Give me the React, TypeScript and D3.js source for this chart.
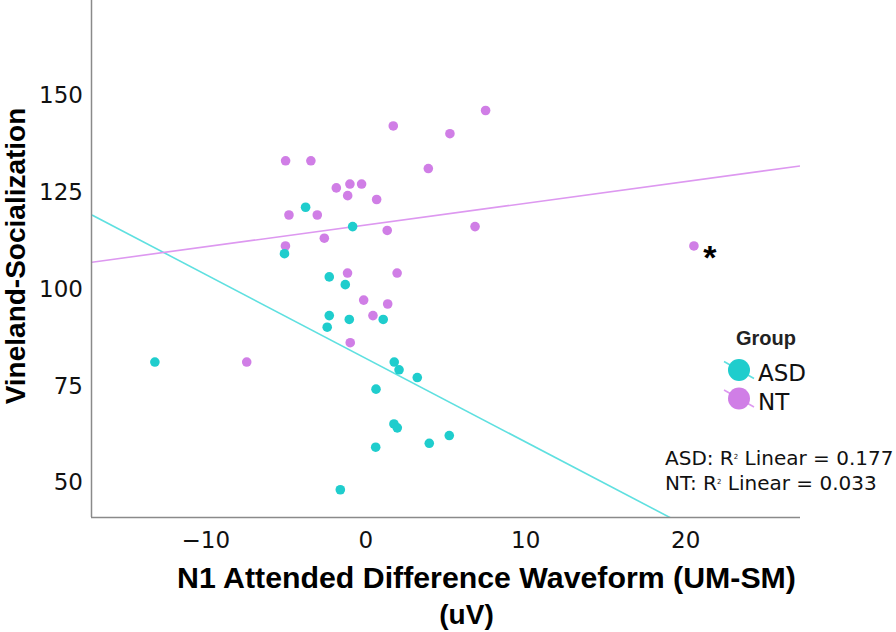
import React from "react";
import * as d3 from "d3";

const asdX = [-13.18, -3.76, -0.82, -5.08, -2.28, -1.28, 1.09, -2.28, -1.03, -2.41, 1.78, 2.08, 3.22, 0.64, 1.76, 1.97, 5.22, 3.97, 0.62, -1.59];
const asdY = [81, 121, 116, 109, 103, 101, 92, 93, 92, 90, 81, 79, 77, 74, 65, 64, 62, 60, 59, 48];

const ntX = [-7.44, 1.72, 5.26, 7.49, -5.01, -3.43, -1.84, -0.99, -0.26, -1.13, 0.68, -4.8, -3.03, 1.34, 3.91, 6.83, -2.59, -5.02, -1.14, 1.96, -0.13, 1.37, 0.45, -0.97, 20.51];
const ntY = [81, 142, 140, 146, 133, 133, 126, 127, 127, 124, 123, 119, 119, 115, 131, 116, 113, 111, 104, 104, 97, 96, 93, 86, 111];

// linear fits: [intercept, slope]
const asdFit = [81.97, -2.164];
const ntFit = [116.41, 0.5616];

const xTicks = [-10, 0, 10, 20];
const yTicks = [50, 75, 100, 125, 150];
const xDomain = [-17.11, 27.14];
const yDomain = [40.96, 174.55];

const groups = ["ASD", "NT"];
const r2Labels = ["ASD: R", "NT: R"];
const r2Values = ["0.177", "0.033"];

const outlierMark = "*";

const COL = { ASD: "#1fcdcd", NT: "#d07ee6" };
const LINECOL = { ASD: "#5fe0e0", NT: "#dd98f0" };

export default function App() {
  const left = 92, right = 800, top = 0, bottom = 517;
  const x = d3.scaleLinear().domain(xDomain).range([left, right]);
  const y = d3.scaleLinear().domain(yDomain).range([bottom, top]);

  const fitPath = (fit: number[]) =>
    d3.line<number>().x((d) => x(d)).y((d) => y(fit[0] + fit[1] * d))(xDomain as number[]) || "";

  const tickFont = "DejaVu Sans, Verdana, sans-serif";
  const boldFont = "Liberation Sans, Arial, sans-serif";

  return (
    <svg width={896} height={632} style={{ position: "absolute", left: 0, top: 0, background: "#fff" }}>
      <defs>
        <clipPath id="plot">
          <rect x={left} y={top} width={right - left} height={bottom - top} />
        </clipPath>
      </defs>
      {/* regression lines */}
      <g clipPath="url(#plot)">
        <path d={fitPath(asdFit)} stroke={LINECOL.ASD} strokeWidth={1.6} fill="none" />
        <path d={fitPath(ntFit)} stroke={LINECOL.NT} strokeWidth={1.6} fill="none" />
      </g>
      {/* points */}
      <g>
        {ntX.map((v, i) => (
          <circle key={"n" + i} cx={x(v)} cy={y(ntY[i])} r={4.8} fill={COL.NT} />
        ))}
        {asdX.map((v, i) => (
          <circle key={"a" + i} cx={x(v)} cy={y(asdY[i])} r={4.8} fill={COL.ASD} />
        ))}
      </g>
      {/* outlier asterisk */}
      <text x={x(ntX[24]) + 16} y={y(ntY[24]) + 23} fontFamily={boldFont} fontWeight="bold" fontSize={34} textAnchor="middle" fill="#000">
        {outlierMark}
      </text>
      {/* axes */}
      <line x1={left - 0.5} x2={left - 0.5} y1={top} y2={bottom} stroke="#8a8a8a" strokeWidth={1.5} />
      <line x1={left - 1} x2={right} y1={bottom + 0.5} y2={bottom + 0.5} stroke="#8a8a8a" strokeWidth={1.5} />
      {yTicks.map((t) => (
        <text key={"y" + t} x={83} y={y(t)} dy="0.36em" textAnchor="end" fontFamily={tickFont} fontSize={23} fill="#111">
          {t}
        </text>
      ))}
      {xTicks.map((t) => (
        <text key={"x" + t} x={x(t)} y={548} textAnchor="middle" fontFamily={tickFont} fontSize={23} fill="#111">
          {t < 0 ? "\u2212" + Math.abs(t) : t}
        </text>
      ))}
      {/* axis titles */}
      <text transform={`translate(25,256) rotate(-90)`} textAnchor="middle" fontFamily={boldFont} fontWeight="bold" fontSize={28} fill="#000">
        Vineland-Socialization
      </text>
      <text x={486.5} y={588} textAnchor="middle" fontFamily={boldFont} fontWeight="bold" fontSize={30.3} fill="#000">
        N1 Attended Difference Waveform (UM-SM)
      </text>
      <text x={466.5} y={624} textAnchor="middle" fontFamily={boldFont} fontWeight="bold" fontSize={28} fill="#000">
        (uV)
      </text>
      {/* legend */}
      <text x={766} y={345} textAnchor="middle" fontFamily={boldFont} fontWeight="bold" fontSize={20} fill="#222">
        Group
      </text>
      {groups.map((g, i) => {
        const cy = 370 + i * 28.5;
        const c = g === "ASD" ? COL.ASD : COL.NT;
        const lc = g === "ASD" ? LINECOL.ASD : LINECOL.NT;
        return (
          <g key={g}>
            <line x1={724} y1={cy - 8.5} x2={754} y2={cy + 8.5} stroke={lc} strokeWidth={1.6} />
            <circle cx={739} cy={cy} r={11} fill={c} />
            <text x={758} y={cy + 11} fontFamily={tickFont} fontSize={23} fill="#111">
              {g}
            </text>
          </g>
        );
      })}
      {/* R² annotations */}
      {r2Labels.map((l, i) => (
        <text key={l} x={665} y={465 + i * 25} fontFamily={tickFont} fontSize={20} fill="#111">
          {l}
          <tspan fontSize={7} dy={-6}>2</tspan>
          <tspan dy={6}>{" Linear = " + r2Values[i]}</tspan>
        </text>
      ))}
    </svg>
  );
}
